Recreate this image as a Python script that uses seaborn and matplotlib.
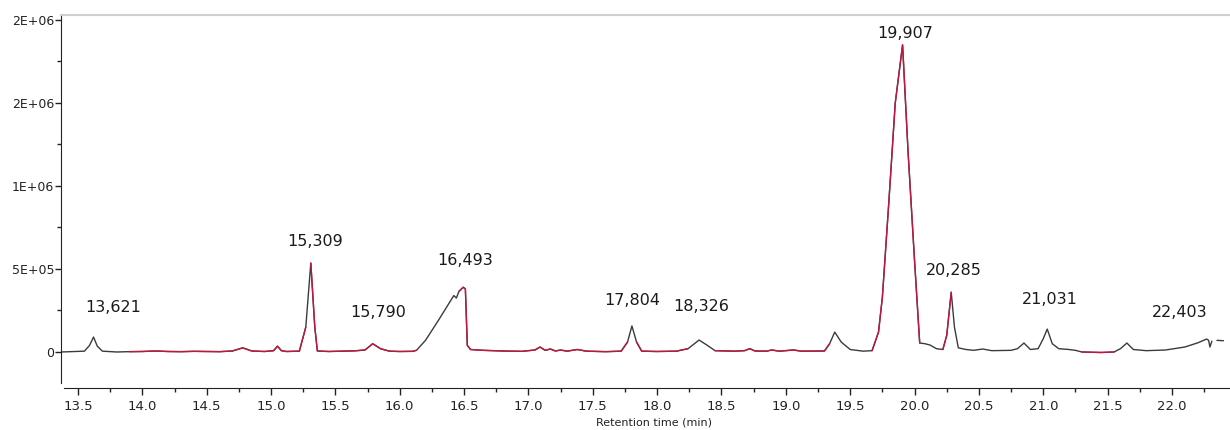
import numpy as np
import pandas as pd
import seaborn as sns
import matplotlib.pyplot as plt
from matplotlib.ticker import MultipleLocator, FixedLocator

# chromatogram trace (time in min, signal in counts)
time_min = [13.37, 13.45, 13.55, 13.59, 13.621, 13.65, 13.69, 13.8, 13.9, 14.0,
            14.1, 14.2, 14.3, 14.4, 14.5, 14.6, 14.7, 14.78, 14.85, 14.95,
            15.02, 15.05, 15.08, 15.12, 15.22, 15.27, 15.309, 15.34, 15.36, 15.45,
            15.55, 15.65, 15.73, 15.79, 15.85, 15.92, 16.0, 16.1, 16.13, 16.2,
            16.3, 16.38, 16.42, 16.44, 16.46, 16.493, 16.51, 16.525, 16.55, 16.65,
            16.8, 16.95, 17.05, 17.09, 17.13, 17.17, 17.21, 17.25, 17.3, 17.38,
            17.45, 17.6, 17.72, 17.77, 17.804, 17.84, 17.88, 18.0, 18.15, 18.24,
            18.326, 18.38, 18.45, 18.6, 18.68, 18.72, 18.76, 18.85, 18.89, 18.95,
            19.06, 19.12, 19.3, 19.34, 19.38, 19.43, 19.5, 19.6, 19.67, 19.72,
            19.75, 19.8, 19.85, 19.907, 19.95, 20.0, 20.04, 20.08, 20.12, 20.17,
            20.22, 20.25, 20.285, 20.31, 20.34, 20.4, 20.46, 20.53, 20.6, 20.75,
            20.8, 20.85, 20.9, 20.96, 21.0, 21.031, 21.07, 21.12, 21.2, 21.25,
            21.3, 21.45, 21.55, 21.6, 21.65, 21.7, 21.8, 21.95, 22.1, 22.2,
            22.27, 22.285, 22.295, 22.31]
signal = [0, 2000, 5000, 40000, 90000, 35000, 5000, 0, 2000, 3000,
          6000, 3000, 2000, 4000, 3000, 2000, 6000, 25000, 6000, 3000,
          8000, 35000, 8000, 3000, 5000, 150000, 536000, 150000, 6000, 3000,
          5000, 7000, 12000, 50000, 20000, 5000, 3000, 4000, 10000, 70000,
          190000, 290000, 340000, 325000, 365000, 390000, 380000, 40000, 15000, 10000,
          6000, 4000, 12000, 30000, 10000, 18000, 6000, 12000, 5000, 15000,
          5000, 2000, 5000, 60000, 157000, 60000, 5000, 3000, 5000, 20000,
          72000, 45000, 8000, 5000, 8000, 20000, 6000, 5000, 12000, 5000,
          12000, 5000, 6000, 50000, 120000, 60000, 15000, 5000, 8000, 120000,
          330000, 900000, 1500000, 1850000, 1200000, 550000, 54000, 50000, 42000, 20000,
          15000, 100000, 360000, 150000, 25000, 15000, 10000, 18000, 8000, 10000,
          20000, 54000, 15000, 20000, 80000, 138000, 50000, 20000, 15000, 10000,
          0, -3000, 0, 20000, 54000, 15000, 8000, 12000, 30000, 55000,
          78000, 70000, 30000, 65000]
tail_time = [22.35, 22.40]
tail_signal = [70000, 68000]

# stretches where the red overlay trace shows
red_windows = [(13.9, 15.27), (15.309, 16.13), (16.46, 17.77), (17.84, 18.3),
               (18.4, 19.34), (19.67, 20.04), (20.22, 20.285), (21.3, 21.58)]

peak_labels = ['13,621', '15,309', '15,790', '16,493', '17,804', '18,326',
               '19,907', '20,285', '21,031', '22,403']
peak_times = [13.621, 15.309, 15.79, 16.493, 17.804, 18.326, 19.907, 20.285, 21.031, 22.27]
label_dx = [20, 4, 5, 2, 0, 2, 3, 3, 3, -27]
label_dy = [30, 22, 31, 27, 25, 34, 11, 22, 30, 27]

ytick_values = [0, 5e5, 1e6, 1.5e6, 2e6]
ytick_labels = ['0', '5E+05', '1E+06', '2E+06', '2E+06']

df = pd.DataFrame({'time': time_min, 'signal': signal})

sns.set_style('ticks')
plt.rcParams['font.family'] = ['DejaVu Sans']

fig = plt.figure(figsize=(12.3, 4.3), dpi=100)
ax = fig.add_axes([61 / 1230, 42 / 430, 1 - 61 / 1230, 373 / 430])

dark = '#3b3b3b'
red = '#c0163f'
sns.lineplot(data=df, x='time', y='signal', color=dark, lw=1.0, ax=ax, estimator=None)
for lo, hi in red_windows:
    part = df[(df['time'] >= lo) & (df['time'] <= hi)]
    sns.lineplot(data=part, x='time', y='signal', color=red, lw=1.0, ax=ax, estimator=None)
sns.lineplot(x=tail_time, y=tail_signal, color=dark, lw=1.0, ax=ax, estimator=None)

for lab, pt, dx, dy in zip(peak_labels, peak_times, label_dx, label_dy):
    py = np.interp(pt, time_min, signal)
    ax.annotate(lab, xy=(pt, py), xytext=(dx, dy), textcoords='offset pixels',
                ha='center', va='center', fontsize=11.5, color='#1a1a1a')

ax.set_xlim(13.368, 22.451)
ax.set_ylim(-216900, 2030000)

ax.xaxis.set_major_locator(FixedLocator(np.arange(13.5, 22.01, 0.5)))
ax.xaxis.set_minor_locator(MultipleLocator(0.25))
ax.xaxis.set_major_formatter(plt.FuncFormatter(lambda v, p: f'{v:.1f}'))
ax.set_yticks(ytick_values)
ax.set_yticklabels(ytick_labels)
ax.yaxis.set_minor_locator(MultipleLocator(2.5e5))

ax.tick_params(axis='x', which='major', length=5, width=1, labelsize=9.5, pad=4, colors='#222222')
ax.tick_params(axis='x', which='minor', length=3, width=1, colors='#222222')
ax.tick_params(axis='y', which='major', length=4, width=1, labelsize=9, pad=1, colors='#222222')
ax.tick_params(axis='y', which='minor', length=3, width=1, colors='#222222')

ax.set_xlabel('Retention time (min)', fontsize=8, color='#222222', va='top')
ax.xaxis.set_label_coords((654 - 61) / 1169, -0.078)
ax.set_ylabel('')

ax.spines['left'].set_bounds(-187000, 2030000)
ax.spines['left'].set_color('#222222')
ax.spines['bottom'].set_bounds(13.39, 22.451)
ax.spines['bottom'].set_color('#222222')
ax.spines['top'].set_visible(True)
ax.spines['top'].set_color('#cfcfcf')
ax.spines['top'].set_linewidth(1.5)
ax.spines['right'].set_visible(False)

fig.savefig('out.png', dpi=100)
